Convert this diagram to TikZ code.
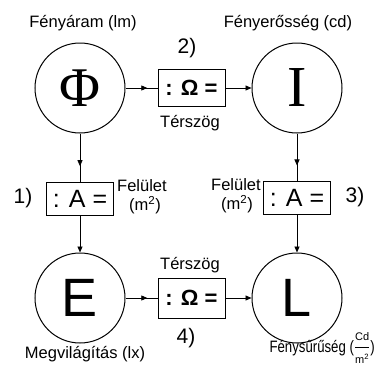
\documentclass[tikz,border=0pt]{standalone}
\usepackage{fontspec}
\usepackage{amsmath}
\usepackage{graphicx}
\setmainfont{Liberation Sans}
\newfontfamily\serifgr{Liberation Serif}
\usetikzlibrary{arrows.meta,decorations.markings}
\begin{document}
\begin{tikzpicture}[x=1pt,y=-1pt,
  circ/.style={draw,circle,line width=1pt,minimum size=90pt,inner sep=0pt},
  opbox/.style={draw,rectangle,line width=0.9pt,minimum width=67pt,inner sep=0pt},
  lbl/.style={font=\fontsize{16.5}{18}\selectfont,inner sep=0pt},
  num/.style={font=\fontsize{21}{24}\selectfont,inner sep=0pt},
  midarrow/.style={line width=0.8pt,postaction={decorate},decoration={markings,mark=at position 0.68 with {\arrow{Triangle[length=6pt,width=5pt]}}}},
  endarrow/.style={line width=0.8pt,-{Triangle[length=6pt,width=5pt]}}
]
\useasboundingbox (0,0) rectangle (376,367);
% circles
\node[circ] (Phi) at (80,88) {\serifgr\fontsize{56}{60}\selectfont Φ};
\node[circ] (I) at (297,88) {\serifgr\fontsize{58}{60}\selectfont I};
\node[circ] (E) at (80,298) {\fontsize{54}{60}\selectfont E};
\node[circ] (L) at (297,298) {\fontsize{54}{60}\selectfont L};
% operator boxes
\node[opbox,minimum height=37pt,font=\fontsize{22}{24}\selectfont\bfseries] (O1) at (191.5,88) {: Ω =};
\node[opbox,minimum height=33pt,font=\fontsize{25}{28}\selectfont] (A1) at (80,198.5) {: A =};
\node[opbox,minimum height=33pt,font=\fontsize{25}{28}\selectfont] (A2) at (297,197.5) {: A =};
\node[opbox,minimum height=40pt,font=\fontsize{22}{24}\selectfont\bfseries] (O2) at (191.5,298) {: Ω =};
% connectors
\draw[midarrow] (Phi) -- (O1);
\draw[endarrow] (O1) -- (I);
\draw[midarrow] (Phi) -- (A1);
\draw[endarrow] (A1) -- (E);
\draw[midarrow] (I) -- (A2);
\draw[endarrow] (A2) -- (L);
\draw[midarrow] (E) -- (O2);
\draw[endarrow] (O2) -- (L);
% labels
\node[lbl] (tPhi) at (83,23) {Fényáram (lm)};
\node[lbl] (tI) at (288,23) {Fényerősség (cd)};
\node[lbl] (tE) at (85,354) {Megvilágítás (lx)};
\node[lbl,anchor=base east,inner xsep=1pt] (tL) at (376,352) {\scalebox{0.8}[1]{Fénysűrűség (}$\genfrac{}{}{0.5pt}{0}{\text{\fontsize{11}{11}\selectfont Cd}}{\text{\fontsize{11}{11}\selectfont m\textsuperscript{2}}}$\scalebox{0.8}[1]{)}};
\node[lbl] (ts1) at (190,123) {Térszög};
\node[lbl] (ts2) at (190,265) {Térszög};
\node[lbl] (f1a) at (142,186) {Felület};
\node[lbl] (f1b) at (145,205) {(m\textsuperscript{2})};
\node[lbl] (f2a) at (236,185) {Felület};
\node[lbl] (f2b) at (237,204) {(m\textsuperscript{2})};
\node[num] (n2) at (187,48) {2)};
\node[num] (n1) at (23,198) {1)};
\node[num] (n3) at (355,197) {3)};
\node[num] (n4) at (186,338) {4)};
\end{tikzpicture}
\end{document}
